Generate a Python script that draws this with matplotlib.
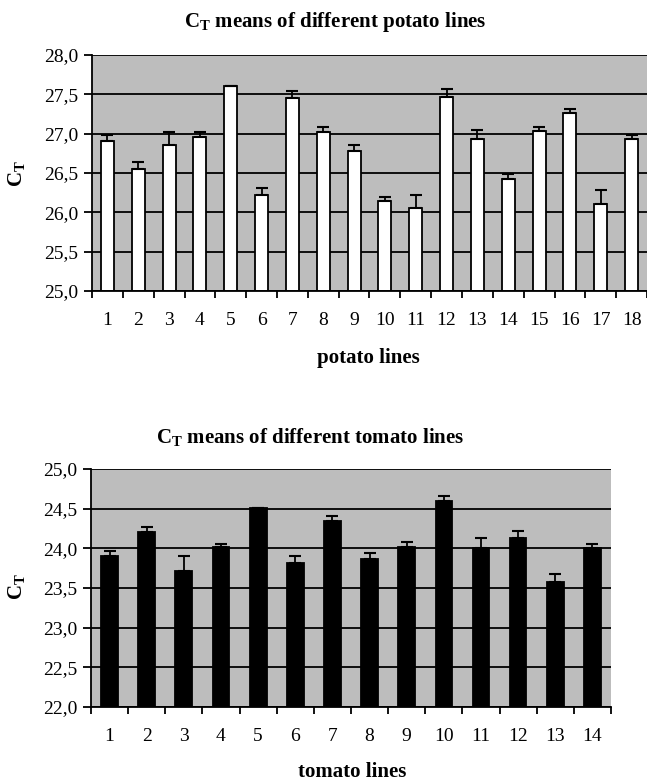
import numpy as np
import matplotlib
matplotlib.use('Agg')
import matplotlib.pyplot as plt
from matplotlib.ticker import FuncFormatter, MultipleLocator

plt.rcParams['font.family'] = ['Liberation Serif', 'DejaVu Serif']
plt.rcParams['mathtext.fontset'] = 'custom'
plt.rcParams['mathtext.rm'] = 'Liberation Serif:bold'

# potato lines
potato_lines = list(range(1, 19))
potato_means = [26.91, 26.55, 26.86, 26.96, 27.60, 26.22, 27.45, 27.02, 26.78,
                26.15, 26.05, 27.47, 26.93, 26.43, 27.04, 27.26, 26.10, 26.93]
potato_err = [0.07, 0.09, 0.16, 0.06, 0.0, 0.09, 0.09, 0.07, 0.07,
              0.04, 0.17, 0.10, 0.12, 0.06, 0.05, 0.05, 0.18, 0.05]

# tomato lines
tomato_lines = list(range(1, 15))
tomato_means = [23.90, 24.20, 23.71, 24.02, 24.51, 23.81, 24.35, 23.86, 24.02,
                24.60, 24.00, 24.13, 23.57, 24.00]
tomato_err = [0.07, 0.07, 0.19, 0.04, 0.0, 0.09, 0.06, 0.08, 0.06,
              0.06, 0.13, 0.09, 0.11, 0.06]

W, H = 647, 781
fig = plt.figure(figsize=(W / 100, H / 100), dpi=100)

def comma(v, pos):
    return ('%.1f' % v).replace('.', ',')

def make_panel(rect, lines, means, err, ylim, color, width):
    ax = fig.add_axes(rect)
    ax.set_facecolor('#bdbdbd')
    ax.set_axisbelow(True)
    x = np.array(lines)
    ax.bar(x, np.array(means) - ylim[0], bottom=ylim[0], width=width,
           color=color, edgecolor='black', linewidth=1.3, zorder=2)
    ax.errorbar(x, means, yerr=[np.zeros(len(err)), err], fmt='none',
                ecolor='black', elinewidth=1.3, capsize=4, capthick=1.5, zorder=3)
    ax.set_xlim(0.5, len(lines) + 0.5)
    ax.set_ylim(*ylim)
    ax.yaxis.set_major_locator(MultipleLocator(0.5))
    ax.yaxis.set_major_formatter(FuncFormatter(comma))
    ax.yaxis.grid(True, color='black', linewidth=1.3)
    ax.xaxis.grid(False)
    ax.set_xticks(x)
    ax.set_xticklabels([str(v) for v in lines])
    ax.set_xticks(np.arange(0.5, len(lines) + 1, 1.0), minor=True)
    ax.tick_params(axis='x', which='major', length=0, pad=15, labelsize=14)
    ax.tick_params(axis='x', which='minor', length=5, width=1.3, direction='out')
    ax.tick_params(axis='y', length=6, width=1.3, direction='out', pad=4, labelsize=14)
    ax.spines['top'].set_visible(False)
    ax.spines['right'].set_visible(False)
    ax.spines['left'].set_linewidth(1.3)
    ax.spines['bottom'].set_linewidth(1.3)
    gl = ax.get_ygridlines()
    gl[-1].set_visible(False)
    gl[0].set_visible(False)
    return ax

ax1 = make_panel([92 / W, 1 - 291 / H, 555 / W, 236 / H],
                 potato_lines, potato_means, potato_err, (25.0, 28.0), 'white', 0.42)
ax2 = make_panel([91 / W, 1 - 707 / H, 520 / W, 238 / H],
                 tomato_lines, tomato_means, tomato_err, (22.0, 25.0), 'black', 0.45)

tkw = dict(ha='center', va='center', fontweight='bold', fontsize=15)
fig.text(335 / W, 1 - 22 / H, r'C$_\mathregular{T}$ means of different potato lines', **tkw)
fig.text(310 / W, 1 - 438 / H, r'C$_\mathregular{T}$ means of different tomato lines', **tkw)
fig.text(368 / W, 1 - 358 / H, 'potato lines', **tkw)
fig.text(352 / W, 1 - 772 / H, 'tomato lines', **tkw)
fig.text(17 / W, 1 - 174 / H, r'C$_\mathregular{T}$', rotation=90, **tkw)
fig.text(17 / W, 1 - 587 / H, r'C$_\mathregular{T}$', rotation=90, **tkw)

fig.savefig('out.png', dpi=100, facecolor='white')
